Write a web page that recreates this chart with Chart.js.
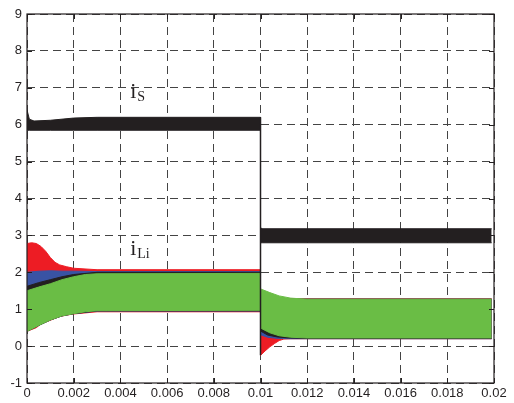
<!DOCTYPE html>
<html>
<head>
<meta charset="utf-8">
<script src="https://cdn.jsdelivr.net/npm/chart.js@4.4.1/dist/chart.umd.min.js"></script>
<style>
  html, body { margin: 0; padding: 0; background: #fff; }
  canvas { display: block; }
</style>
</head>
<body>
<canvas id="chart" width="514" height="403"></canvas>
<script>
// axis ticks
const xTickLabels = ['0', '0.002', '0.004', '0.006', '0.008', '0.01', '0.012', '0.014', '0.016', '0.018', '0.02'];
const yTickLabels = ['-1', '0', '1', '2', '3', '4', '5', '6', '7', '8', '9'];

// i_S envelope (top / bottom of the ripple band)
const sX      = [0, 0.0001, 0.0003, 0.001, 0.002, 0.003, 0.01, 0.01, 0.0101, 0.0199];
const sTop    = [6.4, 6.15, 6.1, 6.12, 6.18, 6.2, 6.2, 3.2, 3.18, 3.18];
const sBottom = [5.85, 5.85, 5.85, 5.85, 5.85, 5.85, 5.85, 2.8, 2.8, 2.8];

// i_Li envelopes, green
const greenX      = [0, 0.0005, 0.001, 0.0015, 0.002, 0.0025, 0.003, 0.01, 0.01, 0.0104, 0.0108, 0.0113, 0.012, 0.0199];
const greenTop    = [1.5, 1.6, 1.69, 1.8, 1.88, 1.94, 1.96, 1.97, 1.55, 1.45, 1.36, 1.3, 1.27, 1.27];
const greenBottom = [0.4, 0.56, 0.71, 0.82, 0.88, 0.93, 0.96, 0.97, 0.49, 0.36, 0.28, 0.24, 0.22, 0.22];

// black
const blackX      = [0, 0.0005, 0.001, 0.0015, 0.002, 0.003, 0.01, 0.01, 0.0103, 0.0107, 0.0112, 0.012, 0.0199];
const blackTop    = [1.62, 1.72, 1.8, 1.88, 1.94, 2.0, 2.0, 1.3, 1.3, 1.28, 1.27, 1.27, 1.27];
const blackBottom = [0.4, 0.56, 0.71, 0.82, 0.88, 0.955, 0.955, 0.41, 0.3, 0.25, 0.22, 0.21, 0.21];

// blue
const blueX      = [0, 0.0005, 0.001, 0.0015, 0.002, 0.003, 0.01, 0.01, 0.0103, 0.0107, 0.0112, 0.012, 0.0199];
const blueTop    = [2.0, 2.03, 2.04, 2.03, 2.03, 2.02, 2.02, 1.3, 1.3, 1.28, 1.27, 1.27, 1.27];
const blueBottom = [0.4, 0.56, 0.71, 0.82, 0.88, 0.95, 0.95, 0.31, 0.24, 0.21, 0.2, 0.2, 0.2];

// red
const redX      = [0, 0.0002, 0.0004, 0.0006, 0.0008, 0.001, 0.0012, 0.0014, 0.0017, 0.002, 0.003, 0.01, 0.01, 0.0102, 0.0104, 0.0106, 0.0108, 0.011, 0.0113, 0.0199];
const redTop    = [2.78, 2.8, 2.78, 2.7, 2.57, 2.4, 2.27, 2.2, 2.15, 2.11, 2.07, 2.07, 1.3, 1.3, 1.3, 1.3, 1.29, 1.28, 1.28, 1.28];
const redBottom = [0.4, 0.45, 0.5, 0.6, 0.65, 0.7, 0.75, 0.8, 0.84, 0.87, 0.93, 0.93, -0.25, -0.13, -0.02, 0.07, 0.15, 0.19, 0.2, 0.2];

// switching instant
const stepX = [0.01, 0.01];
const stepY = [6.2, -0.25];

const RED = '#ed1c24', BLUE = '#3953a4', BLACK = '#231f20', GREEN = '#6abd45';

const pts = (xs, ys) => xs.map((x, i) => ({ x: x, y: ys[i] }));

// band: upper line fills down to the next dataset
function band(xs, top, bottom, color) {
    return [
        { data: pts(xs, top), borderColor: color, backgroundColor: color, borderWidth: 1, fill: '+1' },
        { data: pts(xs, bottom), borderColor: color, backgroundColor: color, borderWidth: 1, fill: false }
    ];
}

// frame, inward ticks and the i_S / i_Li labels
const framePlugin = {
    id: 'frame',
    afterDatasetsDraw(chart) {
        const ctx = chart.ctx, a = chart.chartArea;
        const xs = chart.scales.x, ys = chart.scales.y;
        ctx.save();
        ctx.strokeStyle = '#231f20';
        ctx.lineWidth = 1.2;
        ctx.strokeRect(a.left, a.top, a.right - a.left, a.bottom - a.top);
        ctx.lineWidth = 1;
        ctx.beginPath();
        xs.ticks.forEach(t => {
            const px = Math.round(xs.getPixelForValue(t.value)) + 0.5;
            ctx.moveTo(px, a.bottom); ctx.lineTo(px, a.bottom - 5);
            ctx.moveTo(px, a.top); ctx.lineTo(px, a.top + 5);
        });
        ys.ticks.forEach(t => {
            const py = Math.round(ys.getPixelForValue(t.value)) + 0.5;
            ctx.moveTo(a.left, py); ctx.lineTo(a.left + 5, py);
            ctx.moveTo(a.right, py); ctx.lineTo(a.right - 5, py);
        });
        ctx.stroke();

        ctx.fillStyle = '#231f20';
        ctx.textBaseline = 'alphabetic';
        ctx.textAlign = 'left';
        let px = xs.getPixelForValue(0.00442);
        let py = ys.getPixelForValue(6.72);
        ctx.font = '22px "Liberation Serif", serif';
        ctx.fillText('i', px, py);
        ctx.font = '14px "Liberation Serif", serif';
        ctx.fillText('S', px + 7, py + 3);

        px = xs.getPixelForValue(0.00442);
        py = ys.getPixelForValue(2.48);
        ctx.font = '22px "Liberation Serif", serif';
        ctx.fillText('i', px, py);
        ctx.font = '14px "Liberation Serif", serif';
        ctx.fillText('Li', px + 7, py + 3);
        ctx.restore();
    }
};

Chart.defaults.font.family = '"Liberation Sans", Arial, sans-serif';
Chart.defaults.font.size = 13;
Chart.defaults.color = '#231f20';

new Chart(document.getElementById('chart'), {
    type: 'line',
    data: {
        datasets: [
            { data: pts(stepX, stepY), borderColor: BLACK, borderWidth: 1.5, fill: false },
            ...band(greenX, greenTop, greenBottom, GREEN),
            ...band(blackX, blackTop, blackBottom, BLACK),
            ...band(blueX, blueTop, blueBottom, BLUE),
            ...band(redX, redTop, redBottom, RED),
            ...band(sX, sTop, sBottom, BLACK)
        ]
    },
    options: {
        responsive: false,
        animation: false,
        devicePixelRatio: 1,
        layout: { padding: { top: 14, right: 20, left: 0, bottom: 0 } },
        elements: { point: { radius: 0 }, line: { tension: 0 } },
        plugins: { legend: { display: false }, tooltip: { enabled: false } },
        scales: {
            x: {
                type: 'linear', min: 0, max: 0.02,
                afterFit: s => { s.height = 20; },
                ticks: { stepSize: 0.002, padding: 3, maxRotation: 0, autoSkip: false,
                         callback: (v, i) => xTickLabels[i] },
                grid: { color: '#444', lineWidth: 1, drawTicks: false },
                border: { display: false, dash: [8, 5] }
            },
            y: {
                min: -1, max: 9,
                afterFit: s => { s.width = 27; },
                ticks: { stepSize: 1, padding: 5, autoSkip: false,
                         callback: (v, i) => yTickLabels[i] },
                grid: { color: '#444', lineWidth: 1, drawTicks: false },
                border: { display: false, dash: [8, 5] }
            }
        }
    },
    plugins: [framePlugin]
});
</script>
</body>
</html>
